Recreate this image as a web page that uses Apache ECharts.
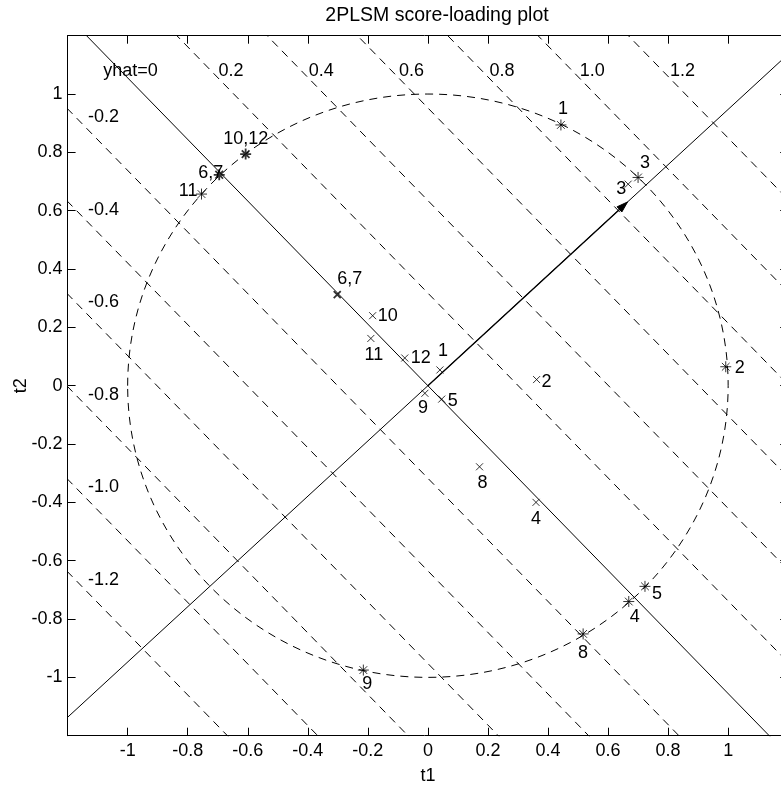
<!DOCTYPE html>
<html><head><meta charset="utf-8">
<script src="https://cdn.jsdelivr.net/npm/echarts@6/dist/echarts.min.js"></script>
<style>html,body{margin:0;padding:0;background:#fff}#c{width:781px;height:785px}</style>
</head><body><div id="c"></div>
<script>
// ---- data ----
const bhat = [0.665, 0.63];
const yhatLevels = [-1.2, -1.0, -0.8, -0.6, -0.4, -0.2, 0, 0.2, 0.4, 0.6, 0.8, 1.0, 1.2];
const yhatLevelLabels = ['-1.2', '-1.0', '-0.8', '-0.6', '-0.4', '-0.2', 'yhat=0', '0.2', '0.4', '0.6', '0.8', '1.0', '1.2'];
const circleRadius = 1;

const loadNames = ['1', '2', '3', '4', '5', '6,7', '8', '9', '10,12', '11'];
const loadT1 = [0.443, 0.992, 0.700, 0.669, 0.723, -0.695, 0.517, -0.215, -0.607, -0.754];
const loadT2 = [0.894, 0.065, 0.714, -0.740, -0.688, 0.723, -0.851, -0.975, 0.794, 0.657];

const scoreNames = ['1', '2', '3', '4', '5', '6,7', '8', '9', '10', '11', '12'];
const scoreT1 = [0.040, 0.362, 0.667, 0.360, 0.046, -0.302, 0.172, -0.010, -0.184, -0.190, -0.077];
const scoreT2 = [0.054, 0.021, 0.691, -0.400, -0.046, 0.312, -0.278, -0.026, 0.240, 0.162, 0.095];

const axisMin = -1.2, axisMax = 1.2, axisStep = 0.2;

// ---- styles (label placement in px, relative to marker) ----
const FAMILY = '"Liberation Sans", Arial, sans-serif';
const FONT = '18px ' + FAMILY;
const loadLabelStyle = {
  '1': [2, -16, 'center'], '2': [9, 1, 'left'], '3': [7, -14, 'center'], '4': [6, 15, 'center'],
  '5': [7, 8, 'left'], '6,7': [4, -2, 'right'], '8': [0, 19, 'center'], '9': [4, 14, 'center'],
  '10,12': [0, -15, 'center'], '11': [-4, -3, 'right']
};
const scoreLabelStyle = {
  '1': [3, -19, 'center'], '2': [5, 2, 'left'], '3': [-2, 5, 'right'], '4': [0, 17, 'center'],
  '5': [6, 2, 'left'], '6,7': [0, -16, 'left'], '8': [3, 16, 'center'], '9': [-2, 15, 'center'],
  '10': [5, 0, 'left'], '11': [3, 17, 'center'], '12': [6, 0, 'left']
};

const STAR = 'path://M5 0L5 10M0 5L10 5M1.5 1.5L8.5 8.5M8.5 1.5L1.5 8.5';
const CROSS = 'path://M0 0L10 10M10 0L0 10';

const chart = echarts.init(document.getElementById('c'), null, {renderer: 'canvas'});

function fmt(v) { return String(Math.round(v * 10) / 10); }

const mkAxis = (pos, show, margin) => ({
  type: 'value', position: pos, min: axisMin, max: axisMax, interval: axisStep,
  axisLine: {show: true, onZero: false, lineStyle: {color: '#000', width: 1}},
  axisTick: {show: true, inside: true, length: 8, lineStyle: {color: '#000', width: 1}},
  axisLabel: {show: show, formatter: fmt, showMinLabel: false, showMaxLabel: false,
    color: '#000', fontSize: 18, fontFamily: FAMILY, margin: margin},
  splitLine: {show: false}
});

const lineSeries = yhatLevels.map((c) => ({
  type: 'line', clip: true, silent: true, showSymbol: false, symbol: 'none', animation: false,
  data: [[-1.3, (c + bhat[0] * 1.3) / bhat[1]], [1.3, (c - bhat[0] * 1.3) / bhat[1]]],
  lineStyle: {color: '#000', width: 1, type: c === 0 ? 'solid' : [8, 6]}
}));

const contourLabelData = yhatLevels.map((c, i) => {
  let t1, t2;
  if (c < 0) { t1 = -1.132; t2 = (c + bhat[0] * 1.2) / bhat[1] - 0.028; }
  else if (c === 0) { t1 = -1.081; t2 = 1.08; }
  else { t2 = 1.08; t1 = (c - bhat[1] * t2) / bhat[0] + 0.025; }
  return {value: [t1, t2], text: yhatLevelLabels[i], dx: 0, dy: 0, align: 'left'};
});

const pointLabelData = [];
loadNames.forEach((n, i) => {
  const s = loadLabelStyle[n];
  pointLabelData.push({value: [loadT1[i], loadT2[i]], text: n, dx: s[0], dy: s[1], align: s[2]});
});
scoreNames.forEach((n, i) => {
  const s = scoreLabelStyle[n];
  pointLabelData.push({value: [scoreT1[i], scoreT2[i]], text: n, dx: s[0], dy: s[1], align: s[2]});
});

const textSeries = (arr) => ({
  type: 'custom', coordinateSystem: 'cartesian2d', silent: true, clip: false, animation: false,
  data: arr.map(d => d.value),
  renderItem: (params, api) => {
    const d = arr[params.dataIndex];
    const p = api.coord([api.value(0), api.value(1)]);
    return {type: 'text', x: p[0] + d.dx, y: p[1] + d.dy,
      style: {text: d.text, font: FONT, fill: '#000', align: d.align, verticalAlign: 'middle'}};
  }
});

const option = {
  animation: false,
  backgroundColor: '#fff',
  title: {text: '2PLSM score-loading plot', left: 432, top: 1, textAlign: 'center',
    textStyle: {fontSize: 19.5, fontWeight: 'normal', color: '#000', fontFamily: FAMILY}},
  grid: {left: 67.6, top: 35.7, width: 720.6, height: 700, containLabel: false, outerBoundsMode: 'none'},
  xAxis: [
    Object.assign(mkAxis('bottom', true, 6), {name: 't1', nameLocation: 'middle', nameGap: 31,
      nameMoveOverlap: false,
      nameTextStyle: {fontSize: 18, color: '#000', fontFamily: FAMILY}}),
    mkAxis('top', false, 6)
  ],
  yAxis: [
    Object.assign(mkAxis('left', true, 5), {name: 't2', nameLocation: 'middle', nameGap: 38,
      nameMoveOverlap: false,
      nameTextStyle: {fontSize: 18, color: '#000', fontFamily: FAMILY}}),
    mkAxis('right', false, 5)
  ],
  series: [
    // unit circle
    {type: 'custom', coordinateSystem: 'cartesian2d', silent: true, clip: true, animation: false,
      data: [[0, 0, circleRadius]],
      renderItem: (params, api) => {
        const c = api.coord([api.value(0), api.value(1)]);
        const s = api.size([api.value(2), api.value(2)]);
        return {type: 'ellipse', shape: {cx: c[0], cy: c[1], rx: s[0], ry: s[1]},
          style: {fill: 'none', stroke: '#000', lineWidth: 1, lineDash: [8, 6]}};
      }},
    ...lineSeries,
    // bhat direction line
    {type: 'line', clip: true, silent: true, showSymbol: false, symbol: 'none', animation: false,
      data: [[-1.3, -1.3 * bhat[1] / bhat[0]], [1.3, 1.3 * bhat[1] / bhat[0]]],
      lineStyle: {color: '#000', width: 1}},
    // bhat arrow
    {type: 'custom', coordinateSystem: 'cartesian2d', silent: true, clip: false, animation: false,
      data: [[0, 0, bhat[0], bhat[1]]],
      renderItem: (params, api) => {
        const o = api.coord([api.value(0), api.value(1)]);
        const t = api.coord([api.value(2), api.value(3)]);
        const ang = Math.atan2(t[1] - o[1], t[0] - o[0]);
        const L = 11, W = 3.5;
        const bx = t[0] - L * Math.cos(ang), by = t[1] - L * Math.sin(ang);
        const nx = -Math.sin(ang) * W, ny = Math.cos(ang) * W;
        return {type: 'group', children: [
          {type: 'line', shape: {x1: o[0], y1: o[1], x2: bx, y2: by}, style: {stroke: '#000', lineWidth: 1.3}},
          {type: 'polygon', shape: {points: [[t[0], t[1]], [bx + nx, by + ny], [bx - nx, by - ny]]},
            style: {fill: '#000', stroke: '#000', lineWidth: 1}}
        ]};
      }},
    // loadings (*)
    {type: 'scatter', symbol: STAR, symbolSize: 11, animation: false, silent: true,
      data: loadNames.map((n, i) => ({value: [loadT1[i], loadT2[i]],
        itemStyle: {borderWidth: n.indexOf(',') >= 0 ? 1.8 : 1}})),
      itemStyle: {color: 'rgba(0,0,0,0)', borderColor: '#000', borderWidth: 1}},
    // scores (x)
    {type: 'scatter', symbol: CROSS, symbolSize: 7, animation: false, silent: true,
      data: scoreNames.map((n, i) => ({value: [scoreT1[i], scoreT2[i]],
        itemStyle: {borderWidth: n.indexOf(',') >= 0 ? 1.8 : 1}})),
      itemStyle: {color: 'rgba(0,0,0,0)', borderColor: '#000', borderWidth: 1}},
    textSeries(contourLabelData),
    textSeries(pointLabelData)
  ]
};
chart.setOption(option);
</script></body></html>
